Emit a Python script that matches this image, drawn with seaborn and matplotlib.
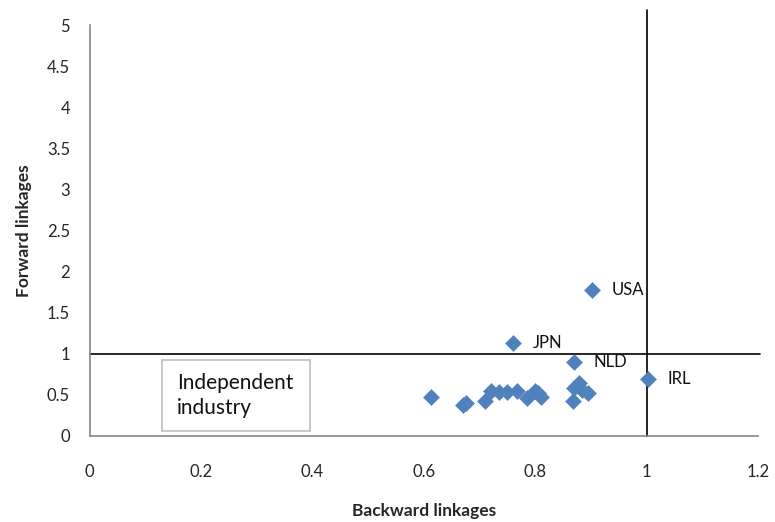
import pandas as pd
import seaborn as sns
import matplotlib.pyplot as plt
from matplotlib.patches import Rectangle

# backward / forward linkages per country
backward = [0.902, 0.761, 0.869, 1.002,
            0.613, 0.671, 0.675, 0.710, 0.720, 0.735, 0.750, 0.768,
            0.786, 0.800, 0.811, 0.805, 0.868, 0.869, 0.879, 0.884, 0.895]
forward = [1.78, 1.13, 0.90, 0.69,
           0.47, 0.38, 0.40, 0.43, 0.55, 0.53, 0.53, 0.55,
           0.46, 0.55, 0.48, 0.52, 0.43, 0.58, 0.65, 0.56, 0.52]
labels = ["USA", "JPN", "NLD", "IRL"] + [""] * 17

xticks = [0, 0.2, 0.4, 0.6, 0.8, 1, 1.2]
yticks = [0, 0.5, 1, 1.5, 2, 2.5, 3, 3.5, 4, 4.5, 5]

df = pd.DataFrame({"Backward linkages": backward, "Forward linkages": forward, "label": labels})

sns.set_theme(style="white")
plt.rcParams["font.family"] = ["Lato", "DejaVu Sans"]

fig = plt.figure(figsize=(7.75, 5.22), dpi=100)
ax = fig.add_axes([0.1155, 0.1648, 0.8625, 0.7873])

sns.scatterplot(data=df, x="Backward linkages", y="Forward linkages", marker="D",
                s=68, color="#4F81BD", edgecolor="#4F81BD", linewidth=0.3, ax=ax, zorder=3)

# threshold lines at 1
ax.plot([0, 1.204], [1, 1], color="black", lw=1.2, clip_on=False, zorder=2)
ax.plot([1, 1], [0, 5.18], color="black", lw=1.2, clip_on=False, zorder=2)

for _, r in df[df.label != ""].iterrows():
    ax.annotate(r.label, (r["Backward linkages"], r["Forward linkages"]),
                xytext=(14, 0), textcoords="offset points", va="center",
                fontsize=12, color="#111111")

# text box for the quadrant
ax.add_patch(Rectangle((0.130, 0.064), 0.266, 0.861, fc="white", ec="#BFBFBF",
                       lw=1.2, zorder=2))
ax.text(0.157, 0.49, "Independent\nindustry", fontsize=15, va="center", ha="left",
        linespacing=1.3, color="#111111", zorder=3)

ax.set_xlim(0, 1.2)
ax.set_ylim(0, 5)
ax.set_xticks(xticks)
ax.set_xticklabels(["0", "0.2", "0.4", "0.6", "0.8", "1", "1.2"])
ax.set_yticks(yticks)
ax.set_yticklabels(["0", "0.5", "1", "1.5", "2", "2.5", "3", "3.5", "4", "4.5", "5"])
ax.tick_params(axis="x", direction="out", length=5, width=1, color="#868686",
               pad=15, labelsize=12)
ax.tick_params(axis="y", direction="out", length=6, width=1, color="#868686",
               pad=8, labelsize=12)
sns.despine(ax=ax)
for s in ["left", "bottom"]:
    ax.spines[s].set_color("#868686")
    ax.spines[s].set_linewidth(1.2)
ax.set_xlabel("Backward linkages", fontsize=12.5, fontweight="bold", labelpad=17)
ax.set_ylabel("Forward linkages", fontsize=12.5, fontweight="bold", labelpad=11)

fig.savefig("out.png", dpi=100)
